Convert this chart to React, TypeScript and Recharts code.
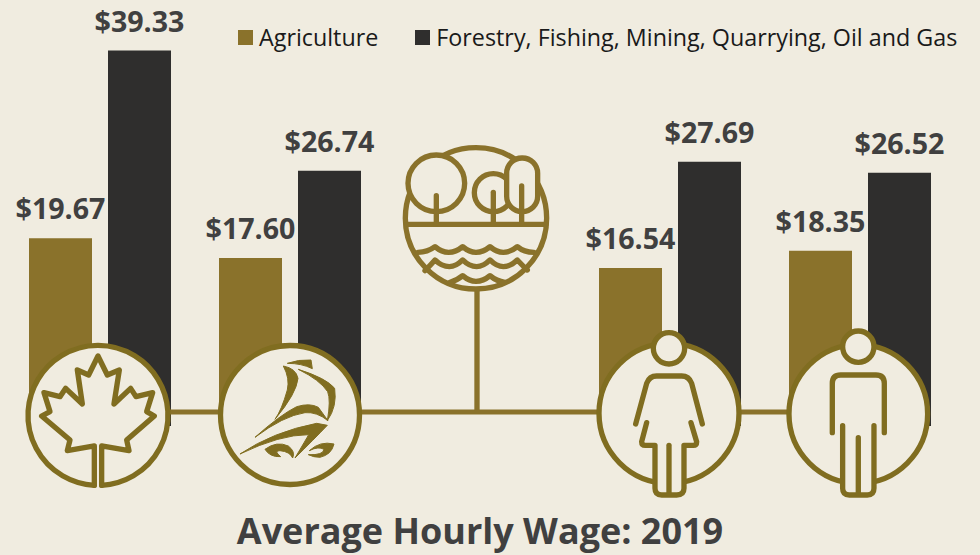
import React from 'react';
import { BarChart, Bar, XAxis, YAxis, Legend, LabelList } from 'recharts';

const regions = ['Canada', 'Province', '', 'Women', 'Men'];
const agriculture = [19.67, 17.6, null, 16.54, 18.35];
const forestry = [39.33, 26.74, null, 27.69, 26.52];

const AGRI_NAME = 'Agriculture';
const FOREST_NAME = 'Forestry, Fishing, Mining, Quarrying, Oil and Gas';
const TITLE = 'Average Hourly Wage: 2019';

const BG = '#f0ece0';
const GOLD = '#8a722b';
const ICON = '#806d20';
const DARK = '#2f2e2d';
const TEXT = '#404040';
const FONT = '"Open Sans", sans-serif';

const rows = regions.map((region, i) => ({
  region,
  agriculture: agriculture[i],
  forestry: forestry[i],
}));

const money = (v: any) => (v == null ? '' : `$${Number(v).toFixed(2)}`);

const LegendRow = ({ payload }: any) => (
  <div style={{ display: 'flex', fontFamily: FONT, fontSize: 23.3, color: '#1a1a1a', lineHeight: '30px' }}>
    {(payload || []).map((p: any, i: number) => (
      <div key={p.value} style={{ display: 'flex', alignItems: 'center', marginRight: i === 0 ? 37 : 0, whiteSpace: 'nowrap' }}>
        <span style={{ width: 15, height: 15, background: p.color, marginRight: 6, display: 'inline-block' }} />
        {p.value}
      </div>
    ))}
  </div>
);

// the icons sit on top of the bars, each one drawn in the frame of its 3x crop
const MapleIcon = () => (
  <g transform="translate(0 330) scale(0.3333)" stroke={ICON} strokeWidth={16} strokeLinejoin="round" strokeLinecap="round">
    <circle cx={294} cy={256} r={210} fill={BG} stroke="none" />
    <path d="M305,466 A210,210 0 1 0 283,466" fill="none" />
    <path
      d="M283,466 L283,348 L202,362 L210,330 L125,258 L150,245 L132,188 L180,200 L197,175 L247,222 L232,120 L266,135 L294,78 L322,135 L358,120 L342,222 L392,175 L408,200 L458,188 L440,245 L463,258 L380,330 L387,362 L305,348 L305,466"
      fill="none"
    />
  </g>
);

const ShipIcon = () => (
  <g>
    <circle cx={290} cy={415} r={69.5} fill={BG} stroke={ICON} strokeWidth={5.3} />
    <g transform="translate(230 350) scale(0.3333)" fill={ICON} stroke={ICON} strokeWidth={3} strokeLinejoin="round">
      <path d="M172,40 Q205,28 243,30 L247,56 Q215,40 172,40Z" />
      <path d="M160,48 Q198,55 204,85 Q200,130 135,208 Q155,180 172,120 Q180,85 160,48Z" />
      <path d="M75,262 Q150,195 200,170 Q240,158 265,172 L294,212 Q260,185 225,188 Q160,198 75,262Z" />
      <path d="M205,58 Q290,85 314,115 Q322,170 292,212 Q303,150 293,125 Q270,90 205,58Z" />
      <path d="M30,312 Q130,245 260,220 L292,226 Q250,270 195,324 Q230,265 236,254 Q150,254 30,312Z" />
      <path d="M105,298 Q140,272 175,288 Q197,305 188,324 Q180,305 150,302 Q130,302 152,320 Q120,322 105,298Z" />
      <path d="M238,302 Q270,272 312,282 Q305,314 270,322 Q250,322 235,314 Q280,316 282,298 Q265,288 238,302Z" />
    </g>
  </g>
);

const LandscapeIcon = () => (
  <g transform="translate(390 140) scale(0.3333)" stroke={GOLD} strokeWidth={16} strokeLinecap="round" strokeLinejoin="round" fill="none">
    <circle cx={258} cy={235} r={212} fill={BG} />
    <path d="M50,253 L468,253" />
    <circle cx={139} cy={130} r={85} fill={BG} />
    <path d="M139,167 L139,250" />
    <circle cx={310} cy={158} r={57} fill={BG} />
    <path d="M310,157 L310,250" />
    <rect x={350} y={54} width={93} height={161} rx={46} fill={BG} />
    <path d="M395,138 L395,250" />
    <path d="M84,337 Q112,337 135,320 Q155,337 176,337 Q198,337 218,320 Q238,337 258,337 Q280,337 300,320 Q320,337 340,337 Q362,337 382,320 Q402,337 432,337" />
    <path d="M105,392 Q120,377 135,360 Q155,380 178,380 Q198,380 218,360 Q238,380 260,380 Q280,380 300,360 Q320,380 340,380 Q362,380 382,360 Q398,377 412,390" />
    <path d="M180,427 Q200,422 218,407 Q238,424 258,424 Q280,424 300,407 Q320,424 345,427" />
    <path d="M261,450 L261,813" strokeLinecap="butt" />
  </g>
);

const WomanIcon = () => (
  <g transform="translate(590 320) scale(0.3333)" stroke={ICON} strokeWidth={16} strokeLinecap="round" strokeLinejoin="round" fill="none">
    <circle cx={237} cy={280} r={210} fill={BG} />
    <circle cx={237} cy={85} r={47} fill={BG} />
    <path d="M137,312 L170,190 Q178,168 200,168 L275,168 Q297,168 305,190 L337,312" />
    <path
      d="M170,308 L155,365 Q155,376 166,376 L195,376 L195,505 Q195,525 215,525 L260,525 Q282,525 282,505 L282,376 L310,376 Q320,376 320,365 L303,308"
      fill={BG}
    />
    <path d="M237,376 L237,520" />
  </g>
);

const ManIcon = () => (
  <g transform="translate(590 320) scale(0.3333)" stroke={ICON} strokeWidth={16} strokeLinecap="round" strokeLinejoin="round" fill="none">
    <circle cx={805} cy={282} r={208} fill={BG} />
    <circle cx={805} cy={80} r={47} fill={BG} />
    <path d="M727,338 L727,190 Q727,165 752,165 L858,165 Q883,165 883,190 L883,338" />
    <path d="M758,317 L758,505 Q758,525 778,525 L832,525 Q852,525 852,505 L852,317" fill={BG} />
    <path d="M805,353 L805,520" />
  </g>
);

const Overlay = () => (
  <svg width={980} height={555} style={{ position: 'absolute', left: 0, top: 0, pointerEvents: 'none' }}>
    <path d="M165,412 L800,412" stroke={GOLD} strokeWidth={5} />
    <MapleIcon />
    <ShipIcon />
    <LandscapeIcon />
    <WomanIcon />
    <ManIcon />
    <text x={480} y={544} textAnchor="middle" fontFamily={FONT} fontSize={36} fontWeight={700} fill={TEXT}>
      {TITLE}
    </text>
  </svg>
);

const labelStyle = { fontFamily: FONT, fontSize: 28.6, fontWeight: 700, fill: TEXT };

export default function App() {
  return (
    <div style={{ position: 'absolute', left: 0, top: 0, width: 980, height: 555, background: BG, overflow: 'hidden' }}>
      <BarChart
        width={980}
        height={555}
        data={rows}
        margin={{ top: 6, right: 25, bottom: 129, left: 5 }}
        barSize={63}
        barGap={16}
      >
        <XAxis dataKey="region" hide />
        <YAxis hide domain={[0, 44]} />
        <Legend
          content={<LegendRow />}
          verticalAlign="middle"
          align="center"
          wrapperStyle={{ position: 'absolute', left: 238, top: 22, bottom: 'auto', width: 740 }}
        />
        <Bar dataKey="agriculture" name={AGRI_NAME} fill={GOLD} isAnimationActive={false}>
          <LabelList dataKey="agriculture" position="top" offset={19} formatter={money} style={labelStyle} />
        </Bar>
        <Bar dataKey="forestry" name={FOREST_NAME} fill={DARK} isAnimationActive={false}>
          <LabelList dataKey="forestry" position="top" offset={19} formatter={money} style={labelStyle} />
        </Bar>
      </BarChart>
      <Overlay />
    </div>
  );
}
